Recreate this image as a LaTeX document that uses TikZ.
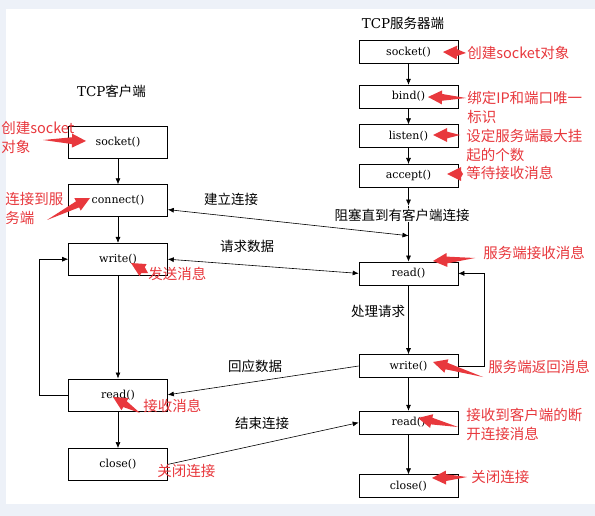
\documentclass[tikz,border=0pt]{standalone}
\usepackage{fontspec}
\setmainfont{DejaVu Serif}
\newfontfamily\cjk{Noto Sans CJK SC}
\usepackage{xcolor}
\usepackage{tikz}
\usetikzlibrary{arrows.meta}
\usetikzlibrary{calc}
\usetikzlibrary{positioning}

\definecolor{annored}{RGB}{232,56,61}
\definecolor{framebg}{RGB}{237,241,248}

% fat red pointer: tail, tip
\newcommand{\fatarrow}[2]{%
  \coordinate (fab) at ($(#2)!14pt!(#1)$);
  \fill[annored] (#1) -- ($(fab)!3.4pt!90:(#2)$) -- ($(fab)!7pt!90:(#2)$) -- (#2)
    -- ($(fab)!7pt!-90:(#2)$) -- ($(fab)!3.4pt!-90:(#2)$) -- cycle;
}

\begin{document}
\begin{tikzpicture}[x=1pt,y=-1pt,>={Latex[length=6pt,width=5pt]},semithick]
 \tikzstyle{cbox}=[draw, minimum width=99pt, minimum height=32pt, inner sep=0pt, font=\fontsize{11}{13}\selectfont]
 \tikzstyle{sbox}=[cbox, minimum height=23pt]
 \tikzstyle{blab}=[inner sep=0pt, font=\cjk\fontsize{13.5}{16}\selectfont]
 \tikzstyle{rlab}=[inner sep=0pt, text=annored, anchor=west, align=left, font=\cjk\fontsize{14.5}{19}\selectfont]
 \useasboundingbox (0,0) rectangle (595,516);
 \fill[framebg] (0,0) rectangle (595,516);
 \fill[white] (6,9) rectangle (595,504);

 % client side
 \node[blab]  (ctitle) at (111.5,91) {{\rmfamily TCP}客户端};
 \node[cbox]  (csock) at (118,142) {socket()};
 \node[cbox]  (cconn) [below=26pt of csock] {connect()};
 \node[cbox]  (cwrite) [below=26pt of cconn] {write()};
 \node[cbox]  (cread) [below=103pt of cwrite] {read()};
 \node[cbox]  (cclose) [below=37pt of cread] {close()};

 % server side
 \node[blab]  (stitle) at (403,23) {{\rmfamily TCP}服务器端};
 \node[sbox]  (ssock) at (408.5,52) {socket()};
 \node[sbox]  (sbind) [below=21pt of ssock] {bind()};
 \node[sbox]  (slisten) [below=16pt of sbind] {listen()};
 \node[sbox]  (saccept) [below=16pt of slisten] {accept()};
 \node[sbox]  (sread) [below=74pt of saccept] {read()};
 \node[sbox]  (swrite) [below=69pt of sread] {write()};
 \node[sbox]  (sread2) [below=33pt of swrite] {read()};
 \node[sbox]  (sclose) [below=40pt of sread2] {close()};

 \coordinate (sblock) at ($(saccept.south)+(0,-18pt)$);
 \coordinate (smeet) at ($(saccept.south)!0.65!(sread.north)$);
 \coordinate (cconnin) at ($(cconn.east)+(0,-9pt)$);

 \draw[->] (csock) -- (cconn);
 \draw[->] (cconn) -- (cwrite);
 \draw[->] (cwrite) -- (cread);
 \draw[->] (cread) -- (cclose);
 \draw[->] (cread.west) -- ++(-29pt,0) |- (cwrite.west);

 \draw[->] (ssock) -- (sbind);
 \draw[->] (sbind) -- (slisten);
 \draw[->] (slisten) -- (saccept);
 \draw[->] (saccept) -- (sblock);
 \draw[->] (sblock) -- (sread);
 \draw[->] (sread) -- (swrite);
 \draw[->] (swrite) -- (sread2);
 \draw[->] (sread2) -- (sclose);
 \draw[->] (swrite.east) -- ++(26pt,0) |- (sread.east);

 \draw[<->] (cconnin) -- (smeet);
 \draw[<->] (cwrite.east) -- (sread.west);
 \draw[->] (swrite.west) -- (cread.east);
 \draw[->] (cclose.east) -- (sread2.west);

 \node[blab] (lconn) at (231,199) {建立连接};
 \node[blab, fill=white, inner sep=1pt] (lblock) at (402,215) {阻塞直到有客户端连接};
 \node[blab] (lreq) at (247,246) {请求数据};
 \node[blab] (lproc) at (378,311) {处理请求};
 \node[blab] (lresp) at (255,366) {回应数据};
 \node[blab] (lend) at (262,423) {结束连接};

 % red notes
 \node[rlab] (acsock) at (1,137.5) {创建socket\\对象};
 \node[rlab] (acconn) at (5,208.5) {连接到服\\务端};
 \node[rlab] (acwrite) at (148,274) {发送消息};
 \node[rlab] (acread) at (143,406) {接收消息};
 \node[rlab] (acclose) at (157,471) {关闭连接};
 \node[rlab] (assock) at (467,53) {创建socket对象};
 \node[rlab] (asbind) at (467,107) {绑定IP和端口唯一\\标识};
 \node[rlab] (aslisten) at (466,145) {设定服务端最大挂\\起的个数};
 \node[rlab] (asaccept) at (466,173) {等待接收消息};
 \node[rlab] (asread) at (483,253) {服务端接收消息};
 \node[rlab] (aswrite) at (488,367) {服务端返回消息};
 \node[rlab] (asread2) at (466,424.5) {接收到客户端的断\\开连接消息};
 \node[rlab] (asclose) at (471,477) {关闭连接};

 \fatarrow{43,140}{86,141}
 \fatarrow{47,220}{90,198}
 \fatarrow{148,273}{131,263}
 \fatarrow{140,413}{113,397}
 \fatarrow{466,53}{443,52}
 \fatarrow{466,98}{428,97}
 \fatarrow{460,135}{433,135}
 \fatarrow{463,174}{447,174}
 \fatarrow{475,258}{433,261}
 \fatarrow{483,377}{433,362}
 \fatarrow{458,427}{418,418}
 \fatarrow{467,477}{432,478}
\end{tikzpicture}
\end{document}
